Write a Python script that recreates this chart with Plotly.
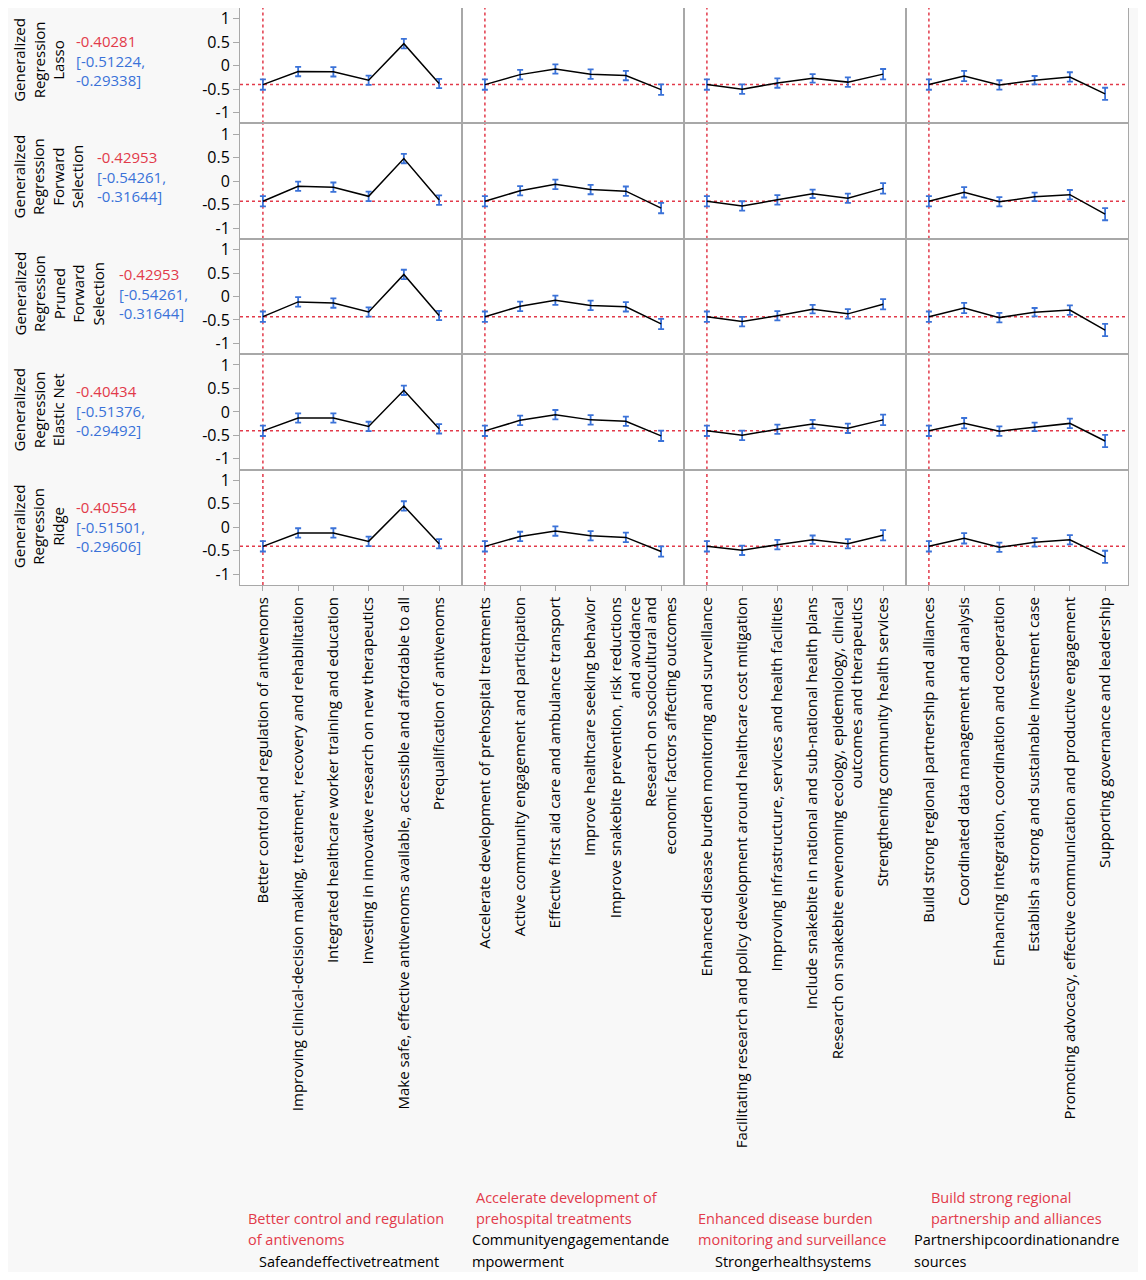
import plotly.graph_objects as go
from plotly.subplots import make_subplots

# ---------------- data ----------------
model_names = [
    ["Generalized", "Regression", "Lasso"],
    ["Generalized", "Regression", "Forward", "Selection"],
    ["Generalized", "Regression", "Pruned", "Forward", "Selection"],
    ["Generalized", "Regression", "Elastic Net"],
    ["Generalized", "Regression", "Ridge"],
]
pred = [-0.40281, -0.42953, -0.42953, -0.40434, -0.40554]
ci_lo = [-0.51224, -0.54261, -0.54261, -0.51376, -0.51501]
ci_hi = [-0.29338, -0.31644, -0.31644, -0.29492, -0.29606]

group_names = [
    ["Better control and regulation", "of antivenoms"],
    ["Accelerate development of", "prehospital treatments"],
    ["Enhanced disease burden", "monitoring and surveillance"],
    ["Build strong regional", "partnership and alliances"],
]
group_themes = [
    ["Safeandeffectivetreatment"],
    ["Communityengagementande", "mpowerment"],
    ["Strongerhealthsystems"],
    ["Partnershipcoordinationandre", "sources"],
]

levels = [
    ["Better control and regulation of antivenoms",
     "Improving clinical-decision making, treatment, recovery and rehabilitation",
     "Integrated healthcare worker training and education",
     "Investing in innovative research on new therapeutics",
     "Make safe, effective antivenoms available, accessible and affordable to all",
     "Prequalification of antivenoms"],
    ["Accelerate development of prehospital treatments",
     "Active community engagement and participation",
     "Effective first aid care and ambulance transport",
     "Improve healthcare seeking behavior",
     "Improve snakebite prevention, risk reductions<br>and avoidance",
     "Research on sociocultural and<br>economic factors affecting outcomes"],
    ["Enhanced disease burden monitoring and surveillance",
     "Facilitating research and policy development around healthcare cost mitigation",
     "Improving infrastructure, services and health facilities",
     "Include snakebite in national and sub-national health plans",
     "Research on snakebite envenoming ecology, epidemiology, clinical<br>outcomes and therapeutics",
     "Strengthening community health services"],
    ["Build strong regional partnership and alliances",
     "Coordinated data management and analysis",
     "Enhancing integration, coordination and cooperation",
     "Establish a strong and sustainable investment case",
     "Promoting advocacy, effective communication and productive engagement",
     "Supporting governance and leadership"],
]

# predicted profile per model (rows) and group (columns)
lasso = [
    [-0.403, -0.125, -0.13, -0.31, 0.47, -0.38],
    [-0.403, -0.19, -0.07, -0.18, -0.21, -0.51],
    [-0.403, -0.50, -0.37, -0.27, -0.35, -0.18],
    [-0.403, -0.22, -0.41, -0.31, -0.24, -0.60],
]
forward = [
    [-0.430, -0.11, -0.13, -0.325, 0.48, -0.405],
    [-0.430, -0.205, -0.07, -0.18, -0.215, -0.575],
    [-0.430, -0.53, -0.40, -0.27, -0.365, -0.155],
    [-0.430, -0.24, -0.44, -0.335, -0.29, -0.705],
]
pruned = [
    [-0.430, -0.115, -0.14, -0.33, 0.47, -0.405],
    [-0.430, -0.21, -0.08, -0.19, -0.22, -0.585],
    [-0.430, -0.535, -0.41, -0.27, -0.37, -0.165],
    [-0.430, -0.245, -0.45, -0.335, -0.29, -0.715],
]
elastic = [
    [-0.404, -0.13, -0.13, -0.31, 0.46, -0.36],
    [-0.404, -0.18, -0.06, -0.17, -0.20, -0.51],
    [-0.404, -0.50, -0.37, -0.26, -0.35, -0.17],
    [-0.404, -0.24, -0.41, -0.32, -0.245, -0.62],
]
ridge = [
    [-0.406, -0.12, -0.12, -0.30, 0.455, -0.35],
    [-0.406, -0.195, -0.08, -0.18, -0.215, -0.515],
    [-0.406, -0.49, -0.37, -0.265, -0.35, -0.17],
    [-0.406, -0.235, -0.425, -0.32, -0.265, -0.63],
]
profiles = [lasso, forward, pruned, elastic, ridge]

# confidence half widths per group level
errors = [
    [0.11, 0.10, 0.10, 0.10, 0.10, 0.10],
    [0.11, 0.10, 0.10, 0.10, 0.10, 0.11],
    [0.11, 0.10, 0.10, 0.09, 0.10, 0.11],
    [0.11, 0.11, 0.10, 0.09, 0.10, 0.13],
]

y_ticks = [-1, -0.5, 0, 0.5, 1]
y_ticktext = ["-1", "-0.5", "0", "0.5", "1"]

# ---------------- style ----------------
# the page body adds 8px, so the figure is drawn 8px in from the window corner
OFF = 8
W, H = 1130, 1264
L, R, T, B = 232, 10, 0, 687
FONT = "Open Sans, Noto Sans, sans-serif"
RED = "#e23a4a"
BLUE = "#3a72d8"
FRAME = "#a8a8a8"
PAGE_BG = "#f8f8f8"


def paper_x(page_px):
    return (page_px - OFF - L) / (W - L - R)


def paper_y(page_py):
    return (H - B - (page_py - OFF)) / (H - T - B)


n_rows, n_cols = len(profiles), len(levels)
fig = make_subplots(rows=n_rows, cols=n_cols, horizontal_spacing=0, vertical_spacing=0)

for i in range(n_rows):
    for j in range(n_cols):
        r, c = i + 1, j + 1
        fig.add_trace(go.Scatter(
            x=levels[j], y=profiles[i][j], mode="lines",
            line=dict(color="black", width=1.5),
            error_y=dict(type="data", array=errors[j], color=BLUE, thickness=1.8, width=3),
            hoverinfo="skip", showlegend=False), row=r, col=c)
        fig.add_hline(y=pred[i], line=dict(color=RED, dash="dot", width=1.5),
                      layer="below", row=r, col=c)
        fig.add_vline(x=0, line=dict(color=RED, dash="dot", width=1.5),
                      layer="below", row=r, col=c)

fig.update_xaxes(range=[-0.65, 5.65], showline=True, mirror=True, linecolor=FRAME,
                 linewidth=1, showgrid=False, zeroline=False, automargin=False,
                 showticklabels=False, ticks="", fixedrange=True)
fig.update_xaxes(row=n_rows, showticklabels=True, ticks="outside", ticklen=5,
                 tickcolor=FRAME, tickangle=-90,
                 tickfont=dict(family=FONT, size=15, color="black"))
fig.update_yaxes(range=[-1.23, 1.23], showline=True, mirror=True, linecolor=FRAME,
                 linewidth=1, showgrid=False, zeroline=False, automargin=False,
                 tickvals=y_ticks, ticktext=y_ticktext, showticklabels=False, ticks="")
fig.update_yaxes(col=1, showticklabels=True, ticks="outside", ticklen=6,
                 tickcolor=FRAME, ticklabeloverflow="allow",
                 tickfont=dict(family=FONT, size=16, color="black"))

annotations = []
top_page, bottom_page = 2, 585
row_h = (bottom_page - top_page) / n_rows
for i in range(n_rows):
    yc = top_page + (i + 0.5) * row_h
    n = len(model_names[i])
    annotations.append(dict(
        text="<br>".join(model_names[i]), textangle=-90,
        x=paper_x(7), y=paper_y(yc), xref="paper", yref="paper",
        xanchor="left", yanchor="middle", showarrow=False, align="center",
        font=dict(family=FONT, size=15, color="black")))
    annotations.append(dict(
        text='<span style="color:%s">%.5f</span><br>[%.5f,<br>%.5f]'
             % (RED, pred[i], ci_lo[i], ci_hi[i]),
        x=paper_x(9 + 21.5 * n), y=paper_y(yc), xref="paper", yref="paper",
        xanchor="left", yanchor="middle", showarrow=False, align="left",
        font=dict(family=FONT, size=15, color=BLUE)))

# factor legends under the axis labels
legend_pos = [
    (246, 1218, 257, 1261),
    (474, 1197, 470, 1240),
    (696, 1218, 713, 1261),
    (929, 1197, 912, 1240),
]
for j, (rx, ry, bx, by) in enumerate(legend_pos):
    for k, line in enumerate(group_names[j]):
        annotations.append(dict(
            text=line, x=paper_x(rx), y=paper_y(ry + 21 * k), xref="paper", yref="paper",
            xanchor="left", yanchor="middle", showarrow=False,
            font=dict(family=FONT, size=14.5, color=RED)))
    for k, line in enumerate(group_themes[j]):
        annotations.append(dict(
            text=line, x=paper_x(bx), y=paper_y(by + 21 * k), xref="paper", yref="paper",
            xanchor="left", yanchor="middle", showarrow=False,
            font=dict(family=FONT, size=14.5, color="black")))

fig.update_layout(
    template="none", width=W, height=H, autosize=False,
    margin=dict(l=L, r=R, t=T, b=B),
    paper_bgcolor=PAGE_BG, plot_bgcolor="white",
    showlegend=False, annotations=annotations,
    font=dict(family=FONT, size=14, color="black"),
)

fig.write_html("out.html")
